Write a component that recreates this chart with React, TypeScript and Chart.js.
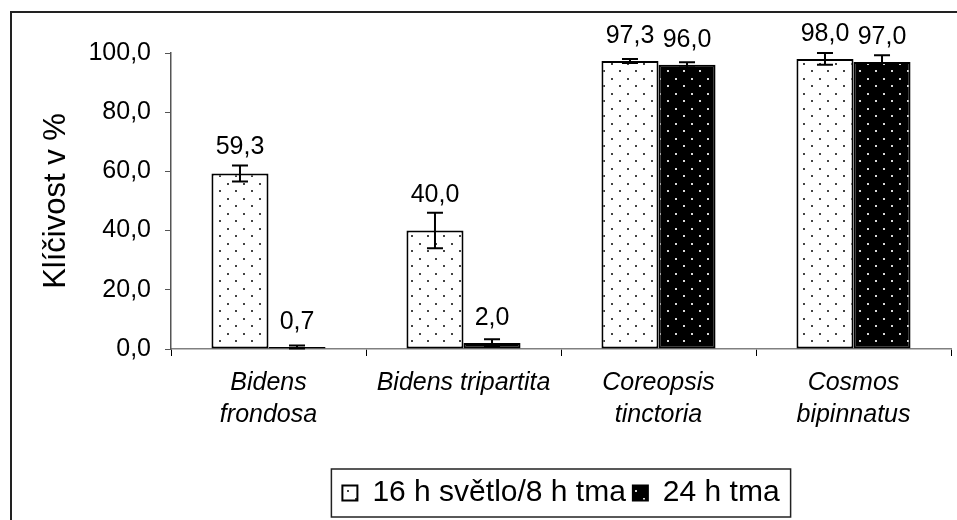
import React, { useEffect, useRef } from 'react';
import { Chart, registerables } from 'chart.js';

Chart.register(...registerables);

const categories: (string | string[])[] = [
  ['Bidens', 'frondosa'],
  'Bidens tripartita',
  ['Coreopsis', 'tinctoria'],
  ['Cosmos', 'bipinnatus'],
];
const seriesNames = ['16 h světlo/8 h tma', '24 h tma'];
const lightValues = [59.3, 40.0, 97.3, 98.0];
const lightErrors = [2.7, 6.0, 0.7, 2.0];
const darkValues = [0.7, 2.0, 96.0, 97.0];
const darkErrors = [0.5, 1.3, 0.9, 2.2];
const yTicks = [0, 20, 40, 60, 80, 100];
const yTitle = 'Klíčivost v %';

const FONT = '"Liberation Sans", Arial, sans-serif';

function makePattern(bg: string, dot: string): CanvasPattern | string {
  const c = document.createElement('canvas');
  c.width = 16;
  c.height = 15;
  const g = c.getContext('2d');
  if (!g) return bg;
  g.fillStyle = bg;
  g.fillRect(0, 0, 16, 15);
  g.fillStyle = dot;
  g.fillRect(3, 3, 2, 2);
  g.fillRect(11, 10, 2, 2);
  const p = g.createPattern(c, 'repeat');
  return p || bg;
}

const fmt = (v: number) => v.toFixed(1).replace('.', ',');

const errorBarPlugin = {
  id: 'errorBarsAndLabels',
  afterDatasetsDraw(chart: any) {
    const ctx = chart.ctx as CanvasRenderingContext2D;
    const y = chart.scales.y;
    chart.data.datasets.forEach((ds: any, di: number) => {
      const meta = chart.getDatasetMeta(di);
      const errs: number[] = ds.errors || [];
      meta.data.forEach((bar: any, i: number) => {
        const v = ds.data[i] as number;
        const e = errs[i] || 0;
        const yt = y.getPixelForValue(v + e);
        const yb = y.getPixelForValue(Math.max(0, v - e));
        ctx.save();
        ctx.strokeStyle = '#000';
        ctx.lineWidth = 2;
        ctx.beginPath();
        ctx.moveTo(bar.x, yt);
        ctx.lineTo(bar.x, yb);
        ctx.moveTo(bar.x - 8, yt);
        ctx.lineTo(bar.x + 8, yt);
        ctx.moveTo(bar.x - 8, yb);
        ctx.lineTo(bar.x + 8, yb);
        ctx.stroke();
        const base = Math.min(bar.y - 18, yt - 11);
        ctx.font = `25px ${FONT}`;
        ctx.fillStyle = '#000';
        ctx.textAlign = 'center';
        ctx.textBaseline = 'alphabetic';
        ctx.fillText(fmt(v), bar.x, base);
        ctx.restore();
      });
    });
  },
};

const framePlugin = {
  id: 'frameAndLegendBox',
  beforeDraw(chart: any) {
    const ctx = chart.ctx as CanvasRenderingContext2D;
    ctx.save();
    ctx.fillStyle = '#fff';
    ctx.fillRect(0, 0, chart.width, chart.height);
    ctx.restore();
  },
  afterDraw(chart: any) {
    const ctx = chart.ctx as CanvasRenderingContext2D;
    ctx.save();
    ctx.strokeStyle = '#222';
    ctx.lineWidth = 2;
    ctx.beginPath();
    ctx.moveTo(11, chart.height + 2);
    ctx.lineTo(11, 12);
    ctx.lineTo(chart.width + 2, 12);
    ctx.stroke();
    const lg = chart.legend;
    if (lg && lg.legendHitBoxes && lg.legendHitBoxes.length) {
      const hb = lg.legendHitBoxes;
      let l = Infinity, r = -Infinity, t = Infinity, b = -Infinity;
      hb.forEach((h: any) => {
        l = Math.min(l, h.left);
        r = Math.max(r, h.left + h.width);
        t = Math.min(t, h.top);
        b = Math.max(b, h.top + h.height);
      });
      ctx.lineWidth = 1.5;
      ctx.strokeStyle = '#222';
      ctx.strokeRect(l - 11, t - 9, r - l + 22, b - t + 18);
    }
    ctx.restore();
  },
};

export default function App() {
  const ref = useRef<HTMLCanvasElement | null>(null);

  useEffect(() => {
    document.body.style.margin = '0';
    const canvas = ref.current;
    if (!canvas) return;
    const lightPattern = makePattern('#ffffff', '#444444');
    const darkPattern = makePattern('#000000', '#d8d8d8');

    const chart = new Chart(canvas, {
      type: 'bar',
      data: {
        labels: categories as any,
        datasets: [
          {
            label: seriesNames[0],
            data: lightValues,
            errors: lightErrors,
            backgroundColor: lightPattern as any,
            borderColor: '#000',
            borderWidth: 2,
            borderSkipped: false,
          } as any,
          {
            label: seriesNames[1],
            data: darkValues,
            errors: darkErrors,
            backgroundColor: darkPattern as any,
            borderColor: '#000',
            borderWidth: 2,
            borderSkipped: false,
          } as any,
        ],
      },
      options: {
        responsive: false,
        animation: false,
        layout: { padding: { top: 53, right: 6, bottom: 2, left: 0 } },
        datasets: {
          bar: { categoryPercentage: 0.585, barPercentage: 1 },
        },
        plugins: {
          tooltip: { enabled: false },
          legend: {
            position: 'bottom',
            fullSize: false,
            labels: {
              font: { family: FONT, size: 30 },
              color: '#000',
              boxWidth: 15,
              boxHeight: 15,
              padding: 7,
            },
          },
        },
        scales: {
          x: {
            grid: {
              display: true,
              drawOnChartArea: false,
              drawTicks: true,
              tickLength: 7,
              color: '#000',
              offset: true,
            },
            border: { color: '#808080', width: 1.5 },
            ticks: {
              font: { family: FONT, size: 25, style: 'italic', lineHeight: 1.28 },
              color: '#000',
              padding: 11,
              maxRotation: 0,
              autoSkip: false,
            },
            afterFit: (s: any) => {
              s.height = 122;
            },
          },
          y: {
            min: 0,
            max: 100,
            afterBuildTicks: (s: any) => {
              s.ticks = yTicks.map((v) => ({ value: v }));
            },
            grid: {
              display: true,
              drawOnChartArea: false,
              drawTicks: true,
              tickLength: 6,
              color: '#555',
            },
            border: { color: '#555', width: 1.5 },
            ticks: {
              font: { family: FONT, size: 25 },
              color: '#000',
              padding: 14,
              callback: (v: any) => fmt(Number(v)),
            },
            title: {
              display: true,
              text: yTitle,
              font: { family: FONT, size: 31 },
              color: '#000',
              padding: { top: 38, bottom: 0 },
            },
            afterFit: (s: any) => {
              s.width = 171;
            },
          },
        },
      } as any,
      plugins: [errorBarPlugin, framePlugin],
    });
    return () => chart.destroy();
  }, []);

  return <canvas ref={ref} width={957} height={520} style={{ display: 'block' }} />;
}
